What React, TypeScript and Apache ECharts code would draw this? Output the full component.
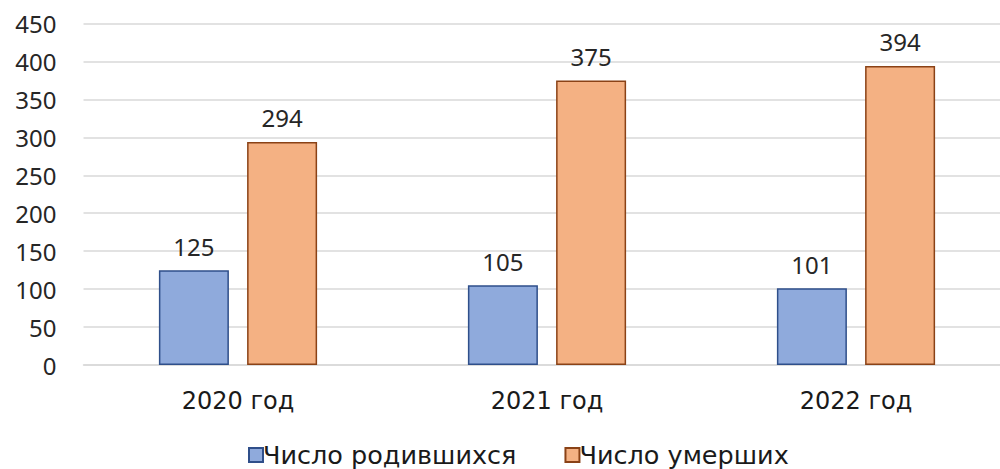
import React, { useEffect, useRef } from "react";
import * as echarts from "echarts";

const categories = ["2020 год", "2021 год", "2022 год"];
const born = [125, 105, 101];
const died = [294, 375, 394];
const seriesNames = ["Число родившихся", "Число умерших"];

export default function App() {
  const ref = useRef<HTMLDivElement>(null);
  useEffect(() => {
    if (!ref.current) return;
    const chart = echarts.init(ref.current, null, { renderer: "svg" });
    const numFont = "'Noto Sans', 'Open Sans', sans-serif";
    const txtFont = "'DejaVu Sans', 'Noto Sans', sans-serif";
    const labelStyle = { show: true, position: "top", distance: 12, fontFamily: numFont, fontSize: 24, color: "#262626" };
    chart.setOption({
      animation: false,
      grid: { left: 83.5, width: 927, top: 23.5, height: 341.5, containLabel: false, outerBoundsMode: "none" },
      legend: {
        top: 442,
        left: 248,
        padding: 0,
        itemWidth: 14,
        itemHeight: 14,
        itemGap: 48,
        icon: "rect",
        textStyle: { fontFamily: txtFont, fontSize: 25.5, lineHeight: 26, color: "#1a1a1a", padding: [0, 0, 0, -5] },
        data: seriesNames,
      },
      xAxis: {
        type: "category",
        data: categories,
        axisLine: { lineStyle: { color: "#d9d9d9", width: 1.5 } },
        axisTick: { show: false },
        axisLabel: { fontFamily: txtFont, fontSize: 24, color: "#1a1a1a", margin: 24 },
      },
      yAxis: {
        type: "value",
        min: 0,
        max: 450,
        interval: 50,
        axisLine: { show: false },
        axisTick: { show: false },
        splitLine: { lineStyle: { color: "#d9d9d9", width: 1.5 } },
        axisLabel: { fontFamily: numFont, fontSize: 24, color: "#262626", margin: 27 },
      },
      series: [
        {
          name: seriesNames[0],
          type: "bar",
          data: born,
          barWidth: 70,
          barGap: "26%",
          itemStyle: { color: "#8faadc", borderColor: "#2f4f8a", borderWidth: 1.5 },
          label: labelStyle,
        },
        {
          name: seriesNames[1],
          type: "bar",
          data: died,
          barWidth: 70,
          itemStyle: { color: "#f4b183", borderColor: "#8a4216", borderWidth: 1.5 },
          label: labelStyle,
        },
      ],
    });
    return () => chart.dispose();
  }, []);
  return <div ref={ref} style={{ width: 1000, height: 469, position: "absolute", left: 0, top: 0, background: "#fff" }} />;
}
